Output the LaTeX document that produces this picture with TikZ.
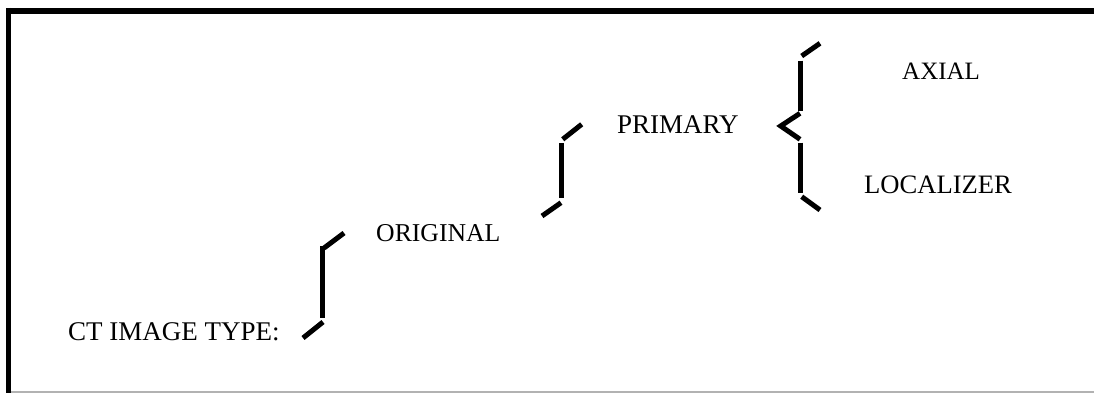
\documentclass[tikz,border=0pt]{standalone}
\usepackage{fontspec}
\setmainfont{Liberation Serif}
\begin{document}
\begin{tikzpicture}[x=1pt,y=-1pt,
  lbl/.style={anchor=base west,inner sep=0pt,font=\fontsize{#1}{30}\selectfont},
  lbl/.default=26,
  brk/.style={line width=5pt,line cap=butt,black},
  framel/.style={line width=5.5pt,black}]
\useasboundingbox (0,0) rectangle (1094,393);
\fill[white] (0,0) rectangle (1094,393);
% frame
\draw[framel] (8.5,8) -- (8.5,393);
\draw[framel] (6,11) -- (1094,11);
\draw[gray!60,line width=1.5pt] (11,392) -- (1094,392);
% labels
\node[lbl=27] (ct) at (68,340) {CT IMAGE TYPE:};
\node[lbl=25.7] (orig) at (376,241.7) {ORIGINAL};
\node[lbl=27] (prim) at (617,134) {PRIMARY};
\node[lbl=25] (axial) at (902,80) {AXIAL};
\node[lbl=26.6] (loc) at (864,193) {LOCALIZER};
% bracket 1
\draw[brk] (344,233) -- (324,248);
\draw[brk] (322.7,246) -- (322.7,318);
\draw[brk] (323,322) -- (303,338);
% bracket 2
\draw[brk] (581.7,124.3) -- (562.7,139.3);
\draw[brk] (561,143.3) -- (561,198.3);
\draw[brk] (561,202.7) -- (542,216);
% bracket 3
\draw[brk] (820,43.3) -- (801.7,56);
\draw[brk] (800,60.7) -- (800,111);
\draw[brk] (800,113.3) -- (780.7,126) -- (800,139.3);
\draw[brk] (800,142.7) -- (800,192.7);
\draw[brk] (801.7,196.7) -- (820,210);
\end{tikzpicture}
\end{document}
